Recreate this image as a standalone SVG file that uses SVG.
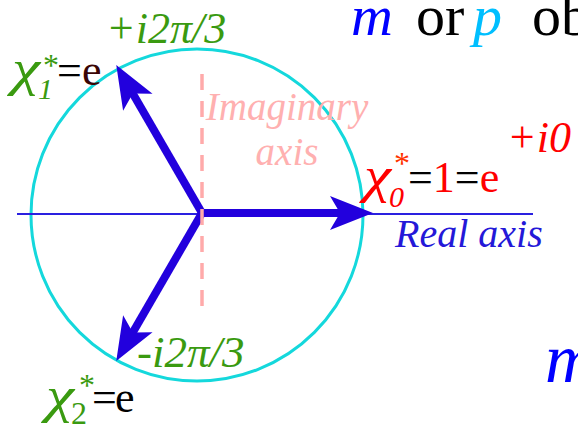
<svg xmlns="http://www.w3.org/2000/svg" width="578" height="425" viewBox="0 0 578 425" font-family="'Liberation Serif', 'DejaVu Serif', serif">
<style>
text{font-family:'Liberation Serif','DejaVu Serif',serif;}
.it{font-style:italic;}
.g{fill:#3a9a10;}
.r{fill:#ff0000;}
.k{fill:#000000;}
.shaft{stroke:#2200dd;stroke-width:8;fill:none;marker-end:url(#ah);}
</style>
<defs>
<marker id="ah" markerUnits="userSpaceOnUse" viewBox="-12 -20 48 40" markerWidth="48" markerHeight="40" refX="3" refY="0" orient="auto">
<path d="M33,0 L-10,-17 L0,0 L-10,17 Z" fill="#2200dd"/>
</marker>
</defs>
<rect width="578" height="425" fill="#ffffff"/>
<g id="circle"><circle cx="197" cy="215" r="166" fill="none" stroke="#14d8dc" stroke-width="3"/></g>
<g id="real-axis"><line x1="17" y1="214" x2="533" y2="214" stroke="#2a20e0" stroke-width="2"/></g>
<g id="connectors">
<line class="shaft" x1="202" y1="213" x2="343" y2="213"/>
<line class="shaft" x1="202" y1="213" x2="131.3" y2="91"/>
<line class="shaft" x1="202" y1="213" x2="131.3" y2="335"/>
</g>
<g id="imag-axis"><line x1="202" y1="74" x2="202" y2="306" stroke="#ffaaaa" stroke-width="3.5" stroke-dasharray="16 11"/></g>
<g id="imag-label">
<text class="it" x="287" y="120" font-size="39" fill="#ffb0b0" text-anchor="middle">Imaginary</text>
<text class="it" x="287" y="165" font-size="39" fill="#ffb0b0" text-anchor="middle">axis</text>
</g>
<g id="real-label"><text class="it" x="395" y="247" font-size="40" fill="#2418d8">Real axis</text></g>
<g id="chi1">
<text x="12" y="85" font-size="50" class="g it" textLength="28" lengthAdjust="spacingAndGlyphs">χ</text>
<text x="38" y="99" font-size="30" class="g it">1</text>
<text x="43" y="76" font-size="32" class="g">*</text>
<text x="57" y="85" font-size="44" class="k">=</text>
<text x="82" y="85" font-size="44" fill="#3a0505">e</text>
<text x="106" y="43" font-size="44" class="g it">+i2π/3</text>
</g>
<g id="chi0">
<text x="364" y="192" font-size="50" class="r it" textLength="27" lengthAdjust="spacingAndGlyphs">χ</text>
<text x="389" y="207" font-size="30" class="r it">0</text>
<text x="394" y="174" font-size="32" fill="#ff3300">*</text>
<text x="408" y="192" font-size="44"><tspan class="k">=</tspan><tspan class="r">1</tspan><tspan class="k">=</tspan><tspan class="r">e</tspan></text>
<text x="507" y="152" font-size="44" class="r it">+i0</text>
</g>
<g id="chi2">
<text x="46" y="412" font-size="50" class="g it" textLength="28" lengthAdjust="spacingAndGlyphs">χ</text>
<text x="71" y="424" font-size="32" class="g">2</text>
<text x="79" y="396" font-size="32" class="g">*</text>
<text x="92" y="412" font-size="44" class="k">=</text>
<text x="115" y="412" font-size="44" class="k">e</text>
<text x="137" y="367" font-size="45" class="g it">-i2π/3</text>
</g>
<g id="title">
<text y="35" font-size="58"><tspan x="351" class="it" fill="#0000ff">m</tspan><tspan x="416" class="k">or</tspan><tspan x="473" class="it" fill="#00bfff">p</tspan><tspan x="532" class="k">ob</tspan></text>
</g>
<g id="m2"><text x="545" y="382" font-size="70" class="it" fill="#0000ff">m</text></g>
</svg>
